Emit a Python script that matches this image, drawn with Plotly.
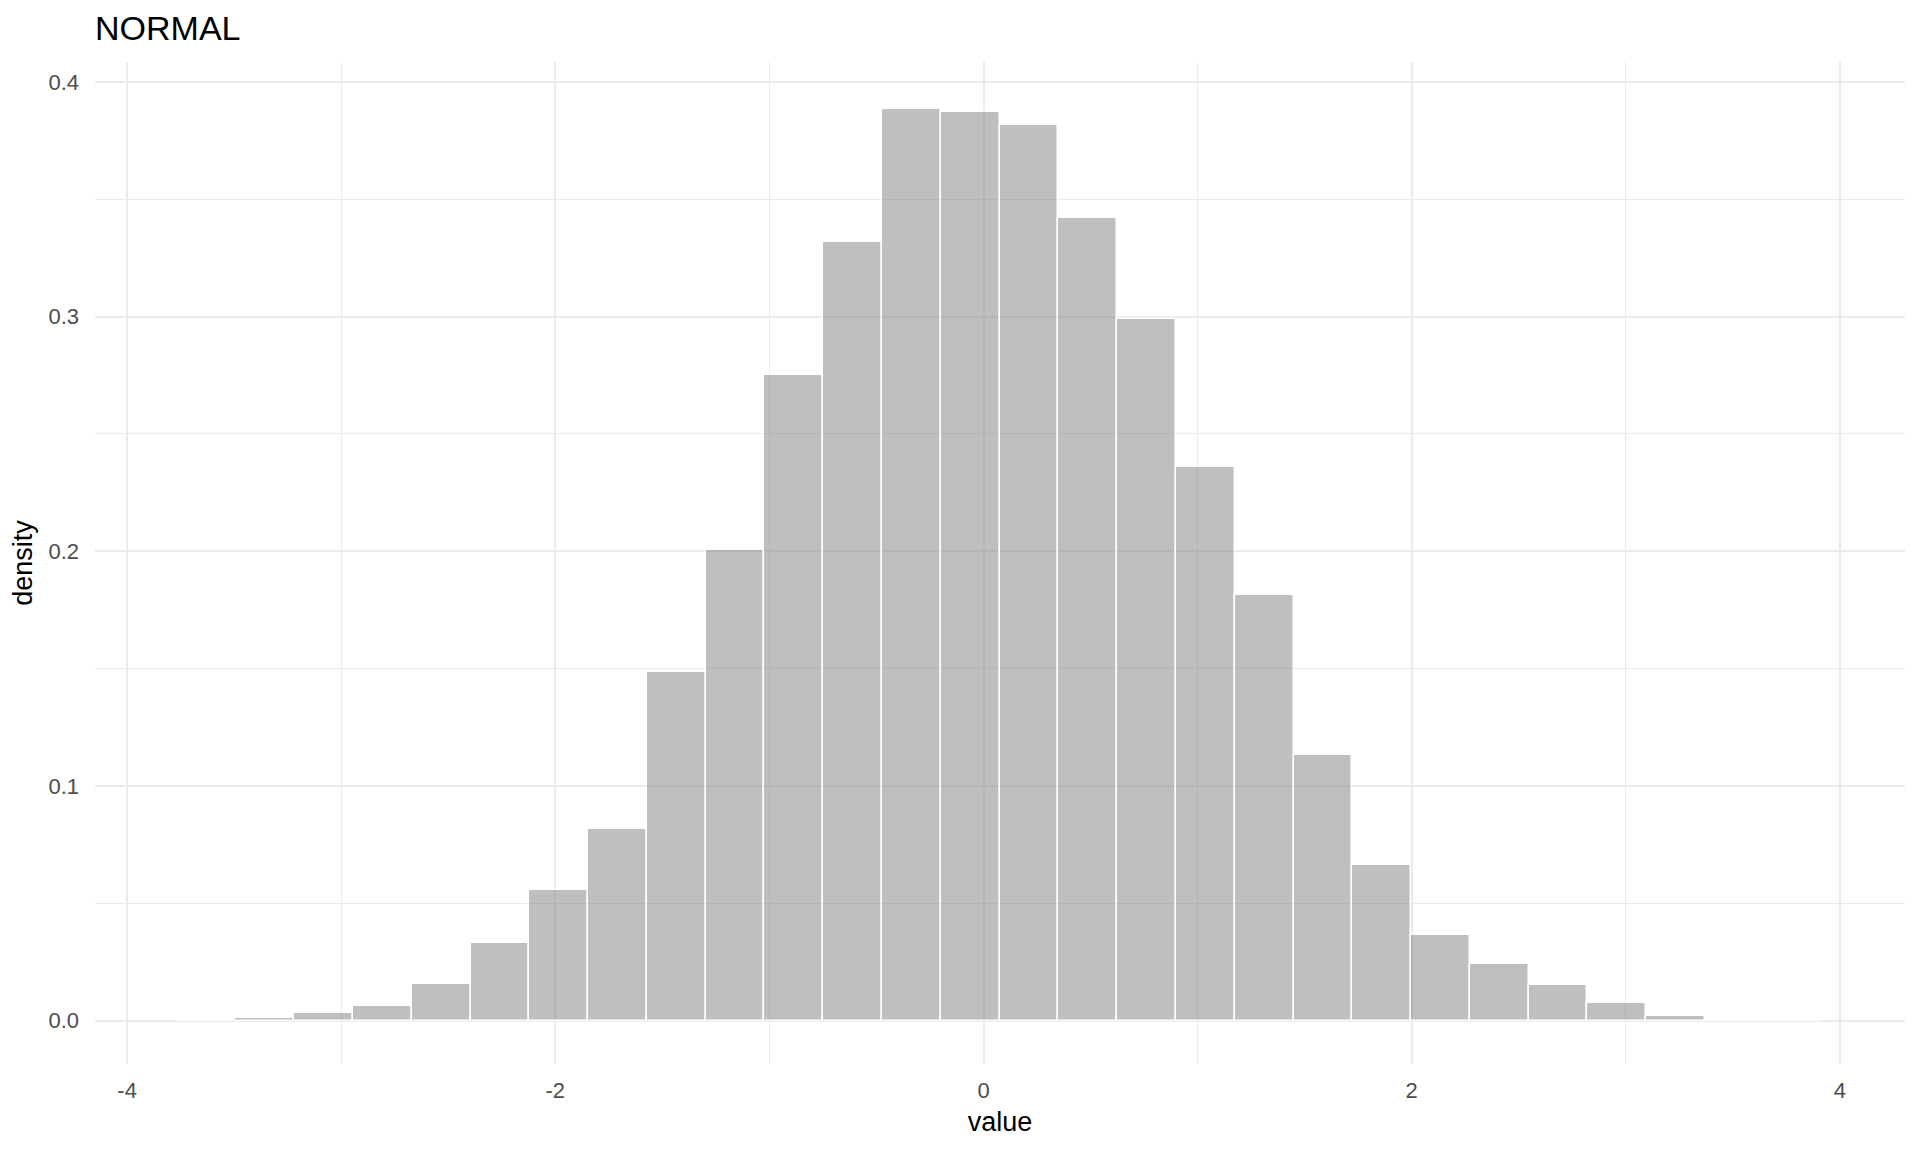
import plotly.graph_objects as go

# histogram of a normal sample
bin_edges = [-3.768, -3.494, -3.219, -2.945, -2.670, -2.396, -2.121, -1.847,
             -1.572, -1.298, -1.023, -0.749, -0.474, -0.200, 0.075, 0.350,
             0.624, 0.899, 1.173, 1.448, 1.722, 1.997, 2.271, 2.546,
             2.820, 3.095, 3.369, 3.644, 3.918]
density = [0.0, 0.0011, 0.0032, 0.0062, 0.0155, 0.0330, 0.0555, 0.0815,
           0.1487, 0.2006, 0.2751, 0.3317, 0.3883, 0.3870, 0.3815, 0.3419,
           0.2989, 0.2359, 0.1815, 0.1130, 0.0662, 0.0364, 0.0241, 0.0151,
           0.0074, 0.0019, 0.0, 0.0]

x_ticks = [-4, -2, 0, 2, 4]
x_labels = ['-4', '-2', '0', '2', '4']
y_ticks = [0.0, 0.1, 0.2, 0.3, 0.4]
y_labels = ['0.0', '0.1', '0.2', '0.3', '0.4']

centers = [(a + b) / 2 for a, b in zip(bin_edges[:-1], bin_edges[1:])]
widths = [b - a for a, b in zip(bin_edges[:-1], bin_edges[1:])]

FONT = 'Liberation Sans, Arial, sans-serif'
GRID = '#EBEBEB'
# the page body has an 8px margin, so everything is pulled back by that much
OFF = 8

fig = go.Figure()
fig.add_trace(go.Bar(
    x=centers,
    y=density,
    width=widths,
    marker=dict(color='rgba(127,127,127,0.5)',
                line=dict(color='white', width=1.5)),
    showlegend=False
))

fig.update_layout(
    width=1920, height=1152,
    margin=dict(l=95 - OFF, r=15 + OFF, t=62 - OFF, b=88 + OFF),
    paper_bgcolor='white',
    plot_bgcolor='white',
    bargap=0,
    font=dict(family=FONT, color='black'),
    title=dict(
        text='NORMAL',
        font=dict(family=FONT, size=34, color='black'),
        xref='container', x=(95 - OFF) / 1920, xanchor='left',
        yref='container', y=1 - (28 - OFF) / 1152, yanchor='middle'
    ),
    xaxis=dict(
        range=[-4.150, 4.304],
        tickvals=x_ticks,
        ticktext=x_labels,
        ticks='',
        showline=False,
        zeroline=False,
        showgrid=True, gridcolor=GRID, gridwidth=2,
        minor=dict(dtick=1, tick0=-4, showgrid=True, gridcolor=GRID, gridwidth=1),
        tickfont=dict(family=FONT, size=22, color='#4D4D4D'),
        ticklabelstandoff=11,
        title=dict(text='value', font=dict(family=FONT, size=27, color='black'),
                   standoff=10)
    ),
    yaxis=dict(
        range=[-0.0185, 0.4085],
        tickvals=y_ticks,
        ticktext=y_labels,
        ticks='',
        showline=False,
        zeroline=False,
        showgrid=True, gridcolor=GRID, gridwidth=2,
        minor=dict(dtick=0.05, tick0=0, showgrid=True, gridcolor=GRID, gridwidth=1),
        tickfont=dict(family=FONT, size=22, color='#4D4D4D'),
        ticklabelstandoff=15,
        title=dict(text='density', font=dict(family=FONT, size=27, color='black'),
                   standoff=8)
    )
)

fig.write_html('out.html')
